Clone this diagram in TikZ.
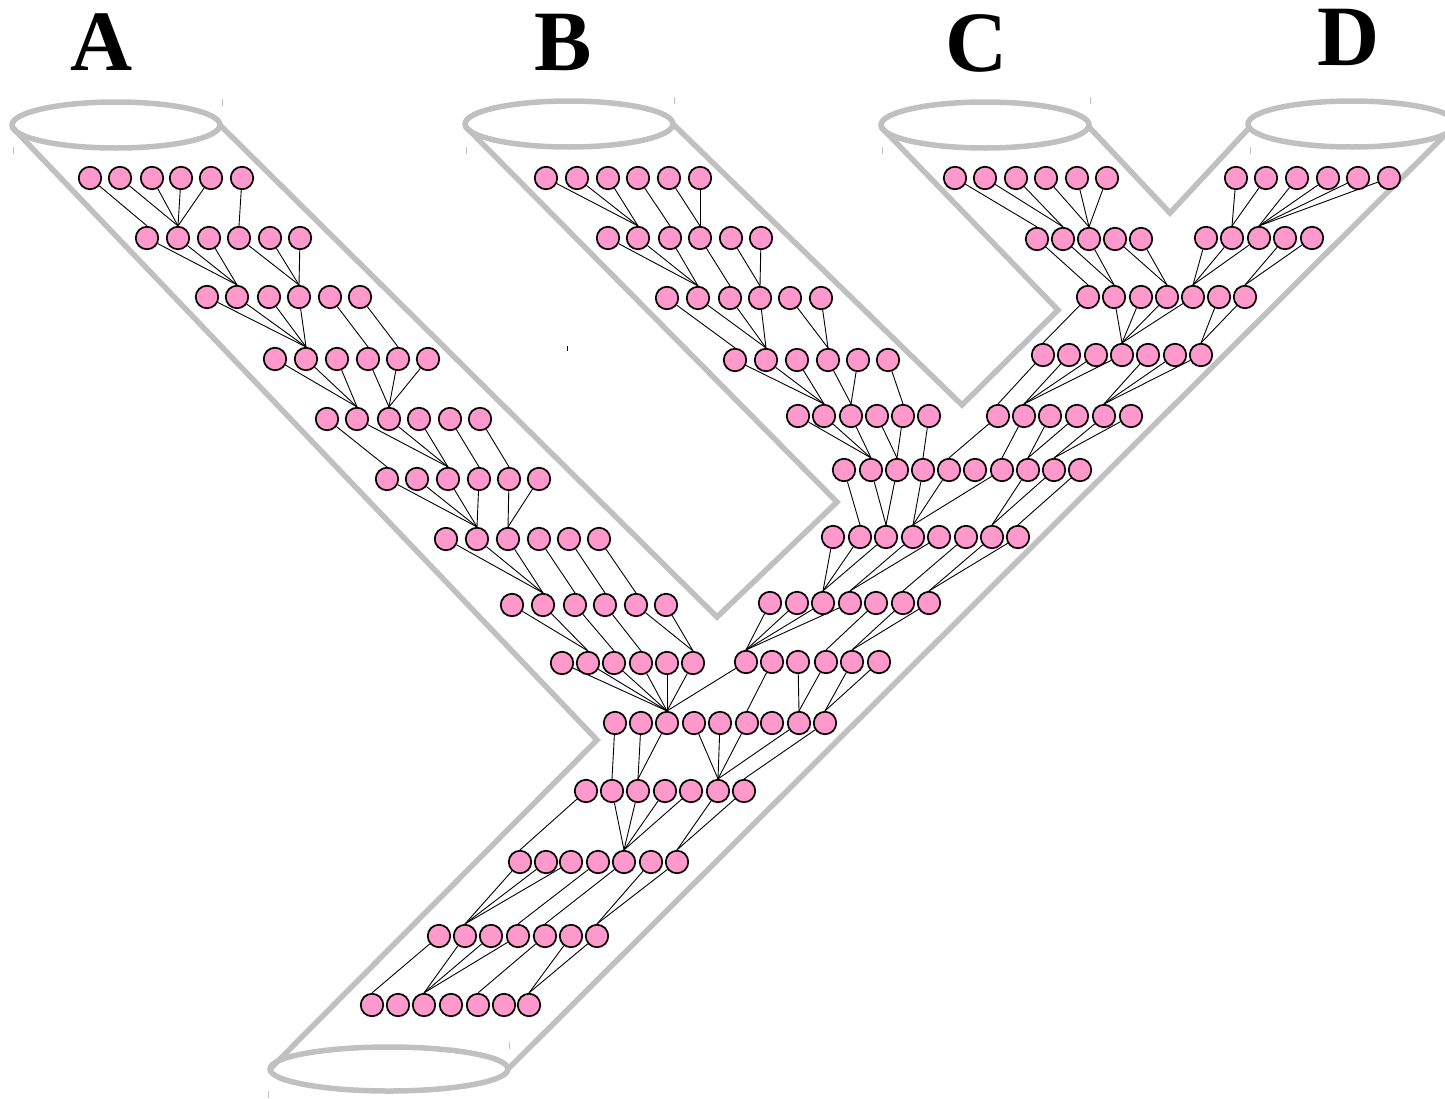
\documentclass[tikz,border=0pt]{standalone}
\usepackage{fontspec}
\setmainfont{Liberation Serif}
\definecolor{cellpink}{HTML}{FF99CC}
\definecolor{tubegray}{HTML}{C0C0C0}
% one row of cells: name prefix, y, list of x positions
\newcommand\cellrow[3]{\foreach \xx [count=\k] in {#3} \node[cell] (#1-\k) at (\xx,#2) {};}
% wires from each listed cell down to the top of one target cell
\newcommand\feed[2]{\foreach \s in {#2} \draw[wire] (\s) -- (#1.north);}
\begin{document}
\begin{tikzpicture}[x=1pt,y=-1pt,
  cell/.style={circle,draw=black,line width=1.7pt,fill=cellpink,minimum size=22.5pt,inner sep=0pt},
  tube/.style={draw=tubegray,line width=5.5pt,line join=miter},
  wire/.style={draw=black,line width=0.9pt},
  bbtick/.style={draw=tubegray,line width=1pt},
  lbl/.style={font=\fontsize{86}{86}\selectfont\bfseries,anchor=base,inner sep=0pt}]
\useasboundingbox (0,0) rectangle (1445,1098);

% labels
\node[lbl] (labA) at (102,70) {A};
\node[lbl] (labB) at (563,70) {B};
\node[lbl] (labC) at (977,71) {C};
\node[lbl] (labD) at (1349,65) {D};

% tube outline
\draw[tube] (116,125) ellipse [x radius=104, y radius=23];
\draw[tube] (569,124) ellipse [x radius=104, y radius=23];
\draw[tube] (985,125) ellipse [x radius=104, y radius=23];
\draw[tube] (1352,124) ellipse [x radius=104, y radius=23];
\draw[tube] (389,1069) ellipse [x radius=119, y radius=22];
\draw[tube] (12,127) -- (597,740) -- (270,1069);
\draw[tube] (220,125) -- (717,617) -- (837,502) -- (465,126);
\draw[tube] (673,124) -- (962,405) -- (1058,310) -- (881,127);
\draw[tube] (1089,127) -- (1170,213) -- (1249,128);
\draw[tube] (1456,124) -- (508,1069);

% small bounding marks
\draw[bbtick] (222,99) -- (222,106);
\draw[bbtick] (13,147) -- (13,154);
\draw[bbtick] (674,97) -- (674,104);
\draw[bbtick] (466,147) -- (466,154);
\draw[bbtick] (1090,97) -- (1090,104);
\draw[bbtick] (882,147) -- (882,154);
\draw[bbtick] (1250,147) -- (1250,154);
\draw[bbtick] (509,1042) -- (509,1049);
\draw[bbtick] (268,1091) -- (268,1098);
\draw[black,line width=1pt] (567,346) -- (567,351);

% cells
\cellrow{a1}{178}{90,120,152,181,211,242}
\cellrow{a2}{238}{147,178,209,239,270,300}
\cellrow{a3}{297}{207,237,269,299,330,360}
\cellrow{a4}{359}{275,306,337,368,398,428}
\cellrow{a5}{419}{327,357,389,419,450,480}
\cellrow{a6}{479}{387,417,448,479,509,539}
\cellrow{a7}{539}{446,477,508,539,569,599}
\cellrow{a8}{605}{512,543,575,605,636,666}
\cellrow{a9}{663}{562,588,614,641,667,693}
\cellrow{b1}{178}{546,577,608,638,669,700}
\cellrow{b2}{238}{608,638,670,700,731,761}
\cellrow{b3}{298}{667,698,730,760,790,821}
\cellrow{b4}{360}{735,766,797,828,858,888}
\cellrow{b5}{416}{798,824,851,877,903,929}
\cellrow{c1}{178}{955,985,1016,1046,1077,1107}
\cellrow{c2}{239}{1037,1063,1089,1115,1141}
\cellrow{d1}{178}{1236,1266,1297,1328,1358,1389}
\cellrow{d2}{238}{1206,1232,1259,1285,1312}
\cellrow{e3}{297}{1088,1114,1141,1167,1193,1219,1245}
\cellrow{e4}{355}{1043,1069,1096,1122,1148,1175,1201}
\cellrow{e5}{416}{998,1024,1050,1077,1104,1131}
\cellrow{n}{470}{844,871,897,923,949,975,1002,1028,1054,1080}
\cellrow{p}{537}{833,860,886,913,939,966,992,1018}
\cellrow{q}{603}{770,797,823,850,876,903,929}
\cellrow{r}{662}{746,772,798,826,852,879}
\cellrow{m1}{723}{615,641,667,694,720,747,772,799,825}
\cellrow{m2}{791}{586,612,638,665,691,718,744}
\cellrow{m3}{862}{520,546,571,598,624,651,677}
\cellrow{m4}{936}{439,465,491,518,545,571,597}
\cellrow{m5}{1005}{372,398,424,451,478,504,529}

% branch A
\feed{a2-1}{a1-1}
\feed{a2-2}{a1-2,a1-3,a1-4,a1-5}
\feed{a2-4}{a1-6}
\feed{a3-2}{a2-1,a2-2,a2-3}
\feed{a3-4}{a2-4,a2-5,a2-6}
\feed{a4-2}{a3-1,a3-2,a3-3,a3-4}
\feed{a4-4}{a3-5}
\feed{a4-5}{a3-6}
\feed{a5-2}{a4-1,a4-2,a4-3}
\feed{a5-3}{a4-4,a4-5,a4-6}
\feed{a6-1}{a5-1}
\feed{a6-3}{a5-2,a5-3,a5-4}
\feed{a6-4}{a5-5}
\feed{a6-5}{a5-6}
\feed{a7-2}{a6-1,a6-2,a6-3,a6-4}
\feed{a7-3}{a6-5,a6-6}
\feed{a8-2}{a7-1,a7-2,a7-3}
\feed{a8-3}{a7-4}
\feed{a8-4}{a7-5}
\feed{a8-5}{a7-6}
\feed{a9-2}{a8-1,a8-2}
\feed{a9-3}{a8-3}
\feed{a9-4}{a8-4}
\feed{a9-6}{a8-5,a8-6}
\feed{m1-3}{a9-1,a9-2,a9-3,a9-4,a9-5,a9-6,r-1}
\feed{m1-6}{r-2}
\feed{m1-8}{r-3,r-4}
\feed{m1-9}{r-5,r-6}

% branch B
\feed{b2-2}{b1-1,b1-2,b1-3}
\feed{b2-3}{b1-4}
\feed{b2-4}{b1-5,b1-6}
\feed{b3-2}{b2-1,b2-2,b2-3}
\feed{b3-3}{b2-4}
\feed{b3-4}{b2-5,b2-6}
\feed{b4-1}{b3-1}
\feed{b4-2}{b3-2,b3-3,b3-4}
\feed{b4-4}{b3-5,b3-6}
\feed{b5-2}{b4-1,b4-2,b4-3}
\feed{b5-3}{b4-4,b4-5}
\feed{b5-5}{b4-6}
\feed{n-2}{b5-1,b5-2,b5-3}
\feed{n-3}{b5-4,b5-5}
\feed{n-4}{b5-6}

% branches C and D
\feed{c2-1}{c1-1}
\feed{c2-2}{c1-2,c1-3}
\feed{c2-3}{c1-4,c1-5,c1-6}
\feed{d2-2}{d1-1,d1-2}
\feed{d2-3}{d1-3,d1-4,d1-5,d1-6}
\feed{e3-1}{c2-1}
\feed{e3-2}{c2-2,c2-3}
\feed{e3-4}{c2-4,c2-5}
\feed{e3-5}{d2-1,d2-2,d2-3}
\feed{e3-7}{d2-4,d2-5}
\feed{e4-1}{e3-1}
\feed{e4-4}{e3-2,e3-3,e3-4,e3-5}
\feed{e4-7}{e3-6,e3-7}
\feed{e5-1}{e4-1}
\feed{e5-2}{e4-2,e4-3,e4-4}
\feed{e5-5}{e4-5,e4-6,e4-7}
\feed{n-5}{e5-1}
\feed{n-7}{e5-2}
\feed{n-8}{e5-3,e5-4}
\feed{n-9}{e5-5,e5-6}

% merged stem
\feed{p-2}{n-1}
\feed{p-3}{n-2,n-3}
\feed{p-4}{n-4,n-5,n-7}
\feed{p-7}{n-8,n-9}
\feed{p-8}{n-10}
\feed{q-3}{p-1,p-2,p-3}
\feed{q-4}{p-4,p-5}
\feed{q-6}{p-6}
\feed{q-7}{p-7,p-8}
\feed{r-1}{q-1,q-2,q-3,q-4}
\feed{r-4}{q-5}
\feed{r-5}{q-6,q-7}
\feed{m2-2}{m1-1}
\feed{m2-3}{m1-2,m1-3}
\feed{m2-6}{m1-4,m1-5,m1-6,m1-8}
\feed{m2-7}{m1-9}
\feed{m3-1}{m2-1}
\feed{m3-5}{m2-2,m2-3,m2-4,m2-5}
\feed{m3-7}{m2-6,m2-7}
\feed{m4-2}{m3-1,m3-2,m3-3}
\feed{m4-4}{m3-4}
\feed{m4-5}{m3-5}
\feed{m4-7}{m3-6,m3-7}
\feed{m5-1}{m4-1}
\feed{m5-3}{m4-2,m4-3,m4-4}
\feed{m5-5}{m4-5}
\feed{m5-7}{m4-6,m4-7}
\end{tikzpicture}
\end{document}
